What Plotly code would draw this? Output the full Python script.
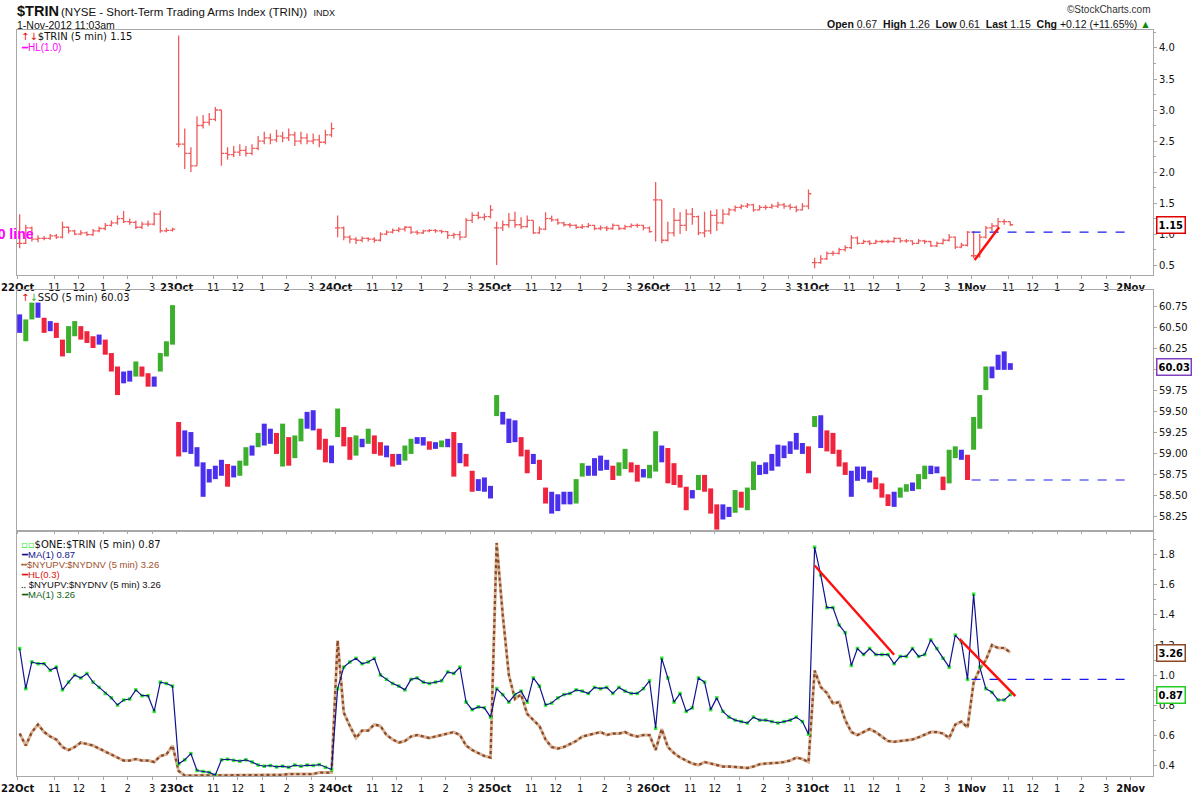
import numpy as np
import pandas as pd
import plotly.graph_objects as go
from plotly.subplots import make_subplots

# sessions on the axis (no trading 29-30 Oct, Sandy); 2Nov is empty space
days = ["22Oct", "23Oct", "24Oct", "25Oct", "26Oct", "31Oct", "1Nov", "2Nov"]
hour_labels = ["11", "12", "1", "2", "3"]
bars_per_day = [26, 26, 26, 26, 26, 26, 7]   # 15 minute bars, 1Nov up to 11:03

# $TRIN (15 minute bars)
trin_close = [
    0.85, 1.10, 0.92, 0.93, 0.93, 0.97, 0.95, 1.11, 1.05, 1.00, 1.02, 0.99, 1.05,
    1.09, 1.14, 1.18, 1.25, 1.20, 1.19, 1.11, 1.16, 1.16, 1.32, 1.05, 1.06, 1.08,
    2.45, 2.30, 2.10, 2.75, 2.80, 2.85, 3.00, 2.30, 2.28, 2.32, 2.35, 2.30, 2.38,
    2.50, 2.55, 2.52, 2.58, 2.55, 2.60, 2.50, 2.55, 2.50, 2.52, 2.48, 2.60, 2.70,
    1.10, 0.95, 0.92, 0.90, 0.93, 0.92, 0.90, 1.00, 1.03, 1.06, 1.08, 1.11, 1.03,
    1.02, 1.05, 1.06, 1.05, 1.04, 0.98, 0.99, 0.95, 1.22, 1.30, 1.27, 1.28, 1.39,
    1.10, 1.15, 1.22, 1.15, 1.12, 1.22, 1.02, 1.08, 1.25, 1.23, 1.18, 1.15, 1.14,
    1.11, 1.12, 1.14, 1.09, 1.10, 1.09, 1.14, 1.09, 1.12, 1.14, 1.14, 1.10, 1.04,
    1.55, 0.90, 1.02, 1.22, 1.14, 1.32, 1.28, 1.02, 1.05, 1.30, 1.18, 1.32, 1.39,
    1.43, 1.45, 1.47, 1.39, 1.43, 1.43, 1.45, 1.47, 1.45, 1.43, 1.39, 1.45, 1.65,
    0.54, 0.60, 0.69, 0.69, 0.75, 0.78, 0.94, 0.85, 0.88, 0.85, 0.88, 0.88, 0.88,
    0.93, 0.89, 0.89, 0.85, 0.89, 0.88, 0.81, 0.85, 0.90, 0.95, 0.79, 0.82, 1.03,
    0.65, 0.95, 1.10, 1.13, 1.20, 1.20, 1.15,
]
trin_high = [
    1.32, 1.15, 1.12, 0.98, 0.97, 1.00, 1.00, 1.20, 1.12, 1.07, 1.06, 1.04, 1.08,
    1.12, 1.18, 1.22, 1.30, 1.37, 1.25, 1.22, 1.20, 1.22, 1.35, 1.38, 1.10, 1.10,
    4.20, 2.70, 2.40, 2.90, 2.92, 2.95, 3.05, 3.00, 2.40, 2.42, 2.45, 2.42, 2.45,
    2.58, 2.65, 2.62, 2.68, 2.65, 2.70, 2.65, 2.65, 2.62, 2.62, 2.60, 2.68, 2.80,
    1.30, 1.12, 0.98, 0.95, 0.96, 0.95, 0.95, 1.03, 1.06, 1.09, 1.11, 1.13, 1.12,
    1.06, 1.07, 1.08, 1.08, 1.07, 1.05, 1.02, 1.05, 1.26, 1.35, 1.36, 1.33, 1.47,
    1.20, 1.22, 1.34, 1.36, 1.27, 1.30, 1.22, 1.12, 1.35, 1.30, 1.25, 1.20, 1.18,
    1.16, 1.16, 1.18, 1.15, 1.14, 1.13, 1.17, 1.14, 1.15, 1.17, 1.17, 1.15, 1.12,
    1.84, 1.10, 1.20, 1.42, 1.35, 1.40, 1.42, 1.30, 1.36, 1.38, 1.40, 1.40, 1.42,
    1.46, 1.48, 1.50, 1.49, 1.47, 1.47, 1.49, 1.52, 1.50, 1.49, 1.46, 1.50, 1.72,
    0.62, 0.66, 0.72, 0.73, 0.78, 0.82, 0.98, 0.96, 0.91, 0.90, 0.91, 0.91, 0.91,
    0.95, 0.94, 0.92, 0.90, 0.92, 0.91, 0.89, 0.88, 0.93, 1.00, 0.96, 0.86, 1.05,
    1.05, 1.00, 1.13, 1.18, 1.26, 1.24, 1.20,
]
trin_low = [
    0.77, 0.84, 0.88, 0.87, 0.90, 0.91, 0.92, 0.93, 1.01, 0.98, 0.98, 0.97, 0.97,
    1.03, 1.06, 1.12, 1.15, 1.18, 1.15, 1.08, 1.08, 1.12, 1.14, 1.02, 1.03, 1.04,
    2.40, 2.05, 2.00, 2.10, 2.70, 2.75, 2.82, 2.10, 2.20, 2.24, 2.26, 2.25, 2.27,
    2.35, 2.45, 2.45, 2.48, 2.48, 2.50, 2.42, 2.45, 2.45, 2.45, 2.40, 2.45, 2.56,
    0.95, 0.90, 0.85, 0.84, 0.87, 0.88, 0.86, 0.88, 0.98, 1.01, 1.03, 1.04, 1.00,
    0.99, 1.00, 1.03, 1.02, 1.01, 0.92, 0.93, 0.90, 0.95, 1.18, 1.24, 1.22, 1.25,
    0.50, 1.05, 1.10, 1.10, 1.08, 1.10, 1.00, 1.00, 1.06, 1.20, 1.15, 1.12, 1.10,
    1.08, 1.08, 1.10, 1.06, 1.06, 1.05, 1.07, 1.06, 1.07, 1.10, 1.10, 1.06, 1.02,
    0.88, 0.85, 0.88, 0.96, 1.00, 1.05, 1.15, 0.98, 0.95, 1.00, 1.05, 1.16, 1.30,
    1.36, 1.40, 1.42, 1.36, 1.38, 1.39, 1.41, 1.42, 1.41, 1.39, 1.35, 1.38, 1.40,
    0.45, 0.52, 0.58, 0.65, 0.67, 0.72, 0.76, 0.83, 0.84, 0.82, 0.84, 0.85, 0.85,
    0.86, 0.86, 0.86, 0.82, 0.84, 0.84, 0.79, 0.79, 0.83, 0.88, 0.76, 0.77, 0.80,
    0.61, 0.62, 0.93, 1.05, 1.11, 1.15, 1.13,
]

# SSO, middle panel
sso_close = [
    60.50, 60.55, 60.75, 60.66, 60.48, 60.52, 60.40, 60.22, 60.48, 60.45, 60.40, 60.36, 60.30,
    60.33, 60.20, 60.02, 59.85, 59.90, 59.95, 60.05, 59.96, 59.84, 59.86, 60.15, 60.30, 60.76,
    59.05, 59.25, 59.05, 58.90, 58.62, 58.74, 58.80, 58.90, 58.66, 58.82, 58.88, 59.02, 59.06,
    59.20, 59.15, 59.22, 59.05, 59.30, 58.95, 59.18, 59.38, 59.40, 59.35, 59.10, 58.98, 59.00,
    59.30, 59.15, 59.00, 59.15, 59.12, 59.25, 59.05, 59.02, 59.00, 58.88, 58.95, 59.05, 59.15,
    59.17, 59.12, 59.08, 59.10, 59.13, 59.12, 58.95, 58.98, 58.88, 58.62, 58.60, 58.62, 58.55,
    59.50, 59.38, 59.30, 59.22, 59.00, 58.85, 58.92, 58.72, 58.48, 58.45, 58.42, 58.47, 58.44,
    58.66, 58.82, 58.78, 58.90, 58.88, 58.85, 58.74, 58.82, 58.98, 58.82, 58.70, 58.76, 58.80,
    59.05, 58.95, 58.80, 58.70, 58.62, 58.40, 58.52, 58.70, 58.58, 58.35, 58.20, 58.32, 58.30,
    58.50, 58.40, 58.55, 58.80, 58.80, 58.84, 58.95, 58.98, 59.05, 59.12, 59.10, 59.05, 58.90,
    59.35, 59.30, 59.10, 59.05, 58.90, 58.78, 58.72, 58.80, 58.76, 58.70, 58.62, 58.52, 58.42,
    58.50, 58.58, 58.60, 58.62, 58.72, 58.82, 58.80, 58.79, 58.65, 58.98, 59.02, 58.98, 58.69,
    59.38, 59.60, 59.95, 59.97, 60.15, 60.05, 60.03,
]
sso_high = [
    60.66, 60.60, 60.80, 60.80, 60.62, 60.58, 60.56, 60.36, 60.52, 60.58, 60.52, 60.46, 60.40,
    60.42, 60.36, 60.20, 60.04, 59.98, 59.99, 60.10, 60.04, 59.96, 59.92, 60.20, 60.34, 60.77,
    59.38, 59.28, 59.26, 59.08, 58.90, 58.82, 58.86, 58.93, 58.88, 58.86, 58.92, 59.08, 59.10,
    59.25, 59.36, 59.30, 59.25, 59.36, 59.20, 59.22, 59.42, 59.50, 59.52, 59.30, 59.18, 59.10,
    59.54, 59.32, 59.20, 59.22, 59.18, 59.30, 59.22, 59.14, 59.10, 59.00, 59.00, 59.10, 59.18,
    59.20, 59.20, 59.15, 59.14, 59.16, 59.18, 59.26, 59.13, 59.00, 58.80, 58.70, 58.72, 58.62,
    59.70, 59.50, 59.42, 59.40, 59.20, 59.05, 59.00, 58.93, 58.60, 58.55, 58.52, 58.55, 58.55,
    58.70, 58.89, 58.86, 58.95, 58.98, 58.93, 58.86, 58.90, 59.06, 58.90, 58.87, 58.82, 58.87,
    59.27, 59.10, 59.07, 58.89, 58.75, 58.61, 58.57, 58.75, 58.75, 58.59, 58.40, 58.40, 58.37,
    58.57, 58.55, 58.60, 58.91, 58.87, 58.90, 59.00, 59.11, 59.10, 59.15, 59.25, 59.13, 59.09,
    59.45, 59.46, 59.28, 59.25, 59.05, 58.90, 58.80, 58.85, 58.85, 58.80, 58.72, 58.65, 58.52,
    58.55, 58.60, 58.64, 58.66, 58.76, 58.86, 58.86, 58.85, 58.73, 59.05, 59.09, 59.05, 58.99,
    59.44, 59.70, 60.04, 60.04, 60.18, 60.22, 60.08,
]
sso_low = [
    60.44, 60.34, 60.60, 60.62, 60.44, 60.46, 60.38, 60.16, 60.20, 60.40, 60.36, 60.32, 60.26,
    60.30, 60.18, 59.98, 59.70, 59.84, 59.86, 59.92, 59.92, 59.80, 59.80, 59.98, 60.16, 60.30,
    58.97, 59.02, 59.00, 58.85, 58.49, 58.66, 58.70, 58.74, 58.61, 58.72, 58.74, 58.86, 58.98,
    59.08, 59.10, 59.12, 59.00, 58.85, 58.86, 58.95, 59.15, 59.30, 59.28, 59.05, 58.90, 58.89,
    59.20, 59.09, 58.93, 58.98, 59.08, 59.12, 59.00, 58.98, 58.96, 58.85, 58.87, 58.92, 59.00,
    59.12, 59.10, 59.05, 59.06, 59.08, 59.08, 58.73, 58.89, 58.85, 58.55, 58.56, 58.55, 58.47,
    59.45, 59.35, 59.13, 59.14, 58.97, 58.77, 58.88, 58.69, 58.41, 58.29, 58.32, 58.40, 58.40,
    58.41, 58.73, 58.74, 58.74, 58.80, 58.81, 58.69, 58.74, 58.82, 58.78, 58.67, 58.72, 58.71,
    58.79, 58.90, 58.65, 58.63, 58.60, 58.33, 58.47, 58.57, 58.55, 58.29, 58.10, 58.22, 58.25,
    58.30, 58.36, 58.33, 58.57, 58.75, 58.76, 58.80, 58.85, 58.95, 59.00, 59.05, 59.00, 58.77,
    59.32, 59.07, 59.03, 59.00, 58.85, 58.75, 58.49, 58.68, 58.70, 58.66, 58.58, 58.48, 58.38,
    58.37, 58.48, 58.55, 58.56, 58.58, 58.70, 58.76, 58.77, 58.57, 58.65, 58.95, 58.93, 58.69,
    59.05, 59.30, 59.76, 59.90, 60.00, 60.00, 60.00,
]

# $NYUPV:$NYDNV as drawn on the bottom panel's (overlay) scale
updn = [
    0.61, 0.53, 0.62, 0.67, 0.62, 0.59, 0.57, 0.52, 0.50, 0.52, 0.55, 0.54, 0.53,
    0.51, 0.49, 0.47, 0.45, 0.43, 0.43, 0.44, 0.43, 0.43, 0.42, 0.46, 0.47, 0.53,
    0.36, 0.33, 0.33, 0.33, 0.33, 0.33, 0.33, 0.33, 0.33, 0.33, 0.33, 0.335, 0.335,
    0.335, 0.335, 0.335, 0.335, 0.335, 0.34, 0.34, 0.34, 0.34, 0.34, 0.35, 0.35, 0.35,
    1.23, 0.75, 0.66, 0.58, 0.63, 0.63, 0.67, 0.66, 0.60, 0.57, 0.55, 0.56, 0.59,
    0.60, 0.59, 0.58, 0.59, 0.60, 0.61, 0.62, 0.60, 0.53, 0.50, 0.48, 0.46, 0.45,
    1.88, 1.40, 1.00, 0.84, 0.87, 0.74, 0.70, 0.66, 0.57, 0.52, 0.51, 0.52, 0.54,
    0.56, 0.59, 0.60, 0.61, 0.62, 0.60, 0.61, 0.61, 0.62, 0.60, 0.59, 0.60, 0.60,
    0.50, 0.64, 0.52, 0.48, 0.45, 0.43, 0.41, 0.40, 0.42, 0.41, 0.40, 0.39, 0.39,
    0.385, 0.38, 0.38, 0.39, 0.405, 0.41, 0.41, 0.415, 0.42, 0.43, 0.45, 0.44, 0.42,
    1.03, 0.92, 0.88, 0.81, 0.82, 0.70, 0.62, 0.60, 0.62, 0.64, 0.62, 0.59, 0.56,
    0.555, 0.56, 0.565, 0.57, 0.585, 0.60, 0.62, 0.62, 0.61, 0.58, 0.67, 0.69, 0.65,
    0.95, 1.04, 1.10, 1.20, 1.18, 1.18, 1.15,
]
updn_hl = 0.39   # HL(0.3) on the overlay scale
updn_last = "3.26"

# hand drawn trend lines (5 minute bar index, value)
trend_top_x, trend_top_y = [469.5, 481.5], [0.58, 1.11]
trend_bot1_x, trend_bot1_y = [391, 430], [1.73, 1.135]
trend_bot2_x, trend_bot2_y = [462, 489.5], [1.24, 0.86]

BARS_PER_DAY = 78   # 5 minute bars in a session
STEP = 3            # 15 minute bars

x = [BARS_PER_DAY * d + STEP * k + 1 for d, n in enumerate(bars_per_day) for k in range(n)]
day_of = [d for d, n in enumerate(bars_per_day) for _ in range(n)]
last_31oct = sum(bars_per_day[:6]) - 1

trin_open = [trin_close[i] if i == 0 or day_of[i] != day_of[i - 1] else trin_close[i - 1]
             for i in range(len(x))]
t_hi = [max(h, o, c) for h, o, c in zip(trin_high, trin_open, trin_close)]
t_lo = [min(l, o, c) for l, o, c in zip(trin_low, trin_open, trin_close)]
one_trin = [1 / c for c in trin_close]

# Elder impulse style colouring of SSO bars
s = pd.Series(sso_close)
ema = s.ewm(span=5, adjust=False).mean()
macd = s.ewm(span=4, adjust=False).mean() - s.ewm(span=9, adjust=False).mean()
hist = macd - macd.ewm(span=3, adjust=False).mean()
rising = (ema.diff() > 0) & (hist.diff() > 0)
falling = (ema.diff() < 0) & (hist.diff() < 0)
impulse = np.where(rising, "g", np.where(falling, "r", "b"))
impulse_colors = {"g": "#3cb02c", "r": "#f0243c", "b": "#4a30ee"}

FONT = "DejaVu Sans, Verdana, sans-serif"
SANS = "Liberation Sans, Arial, sans-serif"
L, R, T, B = 17, 1153, 30, 776


def px_x(px):
    return (px - L) / (R - L)


def px_y(py):
    return (B - py) / (B - T)


fig = make_subplots(rows=3, cols=1, shared_xaxes=True)

# --- top: $TRIN ---
fig.add_hline(y=1.0, line_color="rgba(255,0,255,0.25)", line_width=5, row=1, col=1)
fig.add_hline(y=1.0, line_color="#ff00ff", line_width=1.5, row=1, col=1)
fig.add_trace(go.Ohlc(x=x, open=trin_open, high=t_hi, low=t_lo, close=trin_close,
                      increasing_line_color="#f05a5a", decreasing_line_color="#f05a5a",
                      line_width=1.3, tickwidth=0.45, showlegend=False, hoverinfo="skip"),
              row=1, col=1)
fig.add_trace(go.Scatter(x=[BARS_PER_DAY * 6, BARS_PER_DAY * 7],
                         y=[trin_close[last_31oct]] * 2, mode="lines",
                         line=dict(color="#1a1aee", width=1.2, dash="dash"),
                         showlegend=False), row=1, col=1)
fig.add_trace(go.Scatter(x=trend_top_x, y=trend_top_y, mode="lines",
                         line=dict(color="#ff1010", width=2.5), showlegend=False),
              row=1, col=1)

# --- middle: SSO ---
for key, col in impulse_colors.items():
    xs, ys = [], []
    for xi, lo, hi, imp in zip(x, sso_low, sso_high, impulse):
        if imp == key:
            xs += [xi, xi, None]
            ys += [lo, hi, None]
    fig.add_trace(go.Scatter(x=xs, y=ys, mode="lines", line=dict(color=col, width=5),
                             showlegend=False, hoverinfo="skip"), row=2, col=1)
fig.add_trace(go.Scatter(x=[BARS_PER_DAY * 6, BARS_PER_DAY * 7],
                         y=[sso_close[last_31oct]] * 2, mode="lines",
                         line=dict(color="#1a1aee", width=1.2, dash="dash"),
                         showlegend=False), row=2, col=1)

# --- bottom: $ONE:$TRIN and $NYUPV:$NYDNV ---
fig.add_hline(y=updn_hl, line_color="#e01010", line_width=1.3, row=3, col=1)
fig.add_trace(go.Scatter(x=x, y=updn, mode="lines",
                         line=dict(color="#d8b598", width=3), showlegend=False),
              row=3, col=1)
fig.add_trace(go.Scatter(x=x, y=updn, mode="lines",
                         line=dict(color="#8b4726", width=2.2, dash="dot"), showlegend=False),
              row=3, col=1)
fig.add_trace(go.Scatter(x=x, y=one_trin, mode="markers",
                         marker=dict(symbol="square", size=3.5, color="#30ee30"),
                         showlegend=False), row=3, col=1)
fig.add_trace(go.Scatter(x=x, y=one_trin, mode="lines",
                         line=dict(color="#12128c", width=1.2), showlegend=False),
              row=3, col=1)
fig.add_trace(go.Scatter(x=[BARS_PER_DAY * 6, BARS_PER_DAY * 7],
                         y=[one_trin[last_31oct]] * 2, mode="lines",
                         line=dict(color="#1a1aee", width=1.2, dash="dash"),
                         showlegend=False), row=3, col=1)
for tx, ty in [(trend_bot1_x, trend_bot1_y), (trend_bot2_x, trend_bot2_y)]:
    fig.add_trace(go.Scatter(x=tx, y=ty, mode="lines",
                             line=dict(color="#ff1010", width=2.5), showlegend=False),
                  row=3, col=1)

# x axis ticks: session starts in bold, then 11, 12, 1, 2, 3
tickvals, ticktext = [], []
for d, name in enumerate(days):
    tickvals.append(BARS_PER_DAY * d)
    ticktext.append(f"<b>{name}</b>")
    if d < len(days) - 1:
        for h, lab in zip([18, 30, 42, 54, 66], hour_labels):
            tickvals.append(BARS_PER_DAY * d + h)
            ticktext.append(lab)

axis_common = dict(showline=True, mirror=True, linecolor="#a8a8a8", linewidth=1,
                   showgrid=False, zeroline=False, ticks="outside", ticklen=3,
                   tickcolor="#a8a8a8", automargin=False,
                   tickfont=dict(family=FONT, size=10, color="#111"))
fig.update_xaxes(range=[-0.3, 557], tickvals=tickvals, ticktext=ticktext,
                 rangeslider_visible=False, **axis_common)
fig.update_xaxes(showticklabels=True, row=1, col=1)
fig.update_xaxes(showticklabels=False, row=2, col=1)
fig.update_xaxes(showticklabels=True, row=3, col=1)

fig.update_yaxes(side="right", **axis_common)
fig.update_yaxes(range=[0.34, 4.29], dtick=0.5, tickformat=".1f",
                 minor=dict(dtick=0.25, ticks="outside", ticklen=2, tickcolor="#a8a8a8"),
                 row=1, col=1)
fig.update_yaxes(range=[58.095, 60.95], dtick=0.25, tickformat=".2f", row=2, col=1)
fig.update_yaxes(range=[0.327, 1.953], dtick=0.2, tickformat=".1f",
                 minor=dict(dtick=0.1, ticks="outside", ticklen=2, tickcolor="#a8a8a8"),
                 row=3, col=1)

fig.update_layout(
    width=1200, height=800,
    margin=dict(l=L, r=1200 - R, t=T, b=800 - B, autoexpand=False),
    paper_bgcolor="white", plot_bgcolor="white",
    font=dict(family=FONT, size=10, color="#111"),
    yaxis=dict(domain=[px_y(275), 1.0]),
    yaxis2=dict(domain=[px_y(530), px_y(290)]),
    yaxis3=dict(domain=[0.0, px_y(532)]),
    showlegend=False,
)

ann = []


def text(px, py, s, size=10, anchor="left", color="#111", family=FONT):
    ann.append(dict(x=px_x(px), y=px_y(py), xref="paper", yref="paper", text=s,
                    showarrow=False, xanchor=anchor, yanchor="middle",
                    font=dict(family=family, size=size, color=color)))


text(15, 11, "<b>$TRIN</b>", size=14.5, family=SANS)
text(59, 12, "(NYSE - Short-Term Trading Arms Index (TRIN))  <span style='font-size:9px'>INDX</span>",
     size=11.5, family=SANS)
text(15, 25, "1-Nov-2012 11:03am", size=10.5, family=SANS)
text(R, 9, "©StockCharts.com", size=10, anchor="right", color="#333", family=SANS)
text(R, 24, "<b>Open</b> 0.67  <b>High</b> 1.26  <b>Low</b> 0.61  <b>Last</b> 1.15  "
     "<b>Chg</b> +0.12 (+11.65%) <span style='color:#0a8a0a'>▲</span>",
     size=10.5, anchor="right", family=SANS)

text(19, 36, f"<span style='color:#e00'>↑↓</span>$TRIN (5 min) {trin_close[-1]:.2f}")
text(19, 47, "<span style='color:#ff00ff'>━HL(1.0)</span>", size=10, family=SANS)
text(19, 297, f"<span style='color:#e00'>↑</span><span style='color:#3cb02c'>↓</span>"
     f"SSO (5 min) {sso_close[-1]:.2f}")

legend3 = [
    f"<span style='color:#12128c'>━MA(1) {one_trin[-1]:.2f}</span>",
    f"<span style='color:#a0522d'>╍$NYUPV:$NYDNV (5 min) {updn_last}</span>",
    "<span style='color:#e01010'>━HL(0.3)</span>",
    f"‥ $NYUPV:$NYDNV (5 min) {updn_last}",
    f"<span style='color:#106010'>━MA(1) {updn_last}</span>",
]
text(19, 544, f"<span style='color:#30ee30'>▫▫</span>$ONE:$TRIN (5 min) {one_trin[-1]:.2f}")
for i, s_ in enumerate(legend3):
    text(19, 554 + 10.1 * i, s_, size=9.5, family=SANS)

# "1.0 line" label, clipped by the left edge
ann.append(dict(x=px_x(36), y=1.0, xref="paper", yref="y", text="<b>1.0 line</b>",
                showarrow=False, xanchor="right", yanchor="middle",
                font=dict(family=SANS, size=14, color="#ff00ff")))

# last value tags on the right
for yref, val, label, col in [("y", trin_close[-1], f"{trin_close[-1]:.2f}", "#e00000"),
                              ("y2", sso_close[-1], f"{sso_close[-1]:.2f}", "#8040c0"),
                              ("y3", updn[-1], updn_last, "#8b4726"),
                              ("y3", one_trin[-1], f"{one_trin[-1]:.2f}", "#22cc22")]:
    ann.append(dict(x=1.0, y=val, xref="paper", yref=yref, text=f"<b>{label}</b>",
                    showarrow=False, xanchor="left", yanchor="middle", xshift=3,
                    bordercolor=col, borderwidth=1.5, borderpad=1, bgcolor="white",
                    font=dict(family="DejaVu Sans Condensed, " + FONT, size=11, color="#000")))

fig.update_layout(annotations=ann)
# drop the browser's default 8px body margin so the page matches the figure
fig.write_html("out.html", config={"displayModeBar": False},
               post_script="document.body.style.margin = '0';")
